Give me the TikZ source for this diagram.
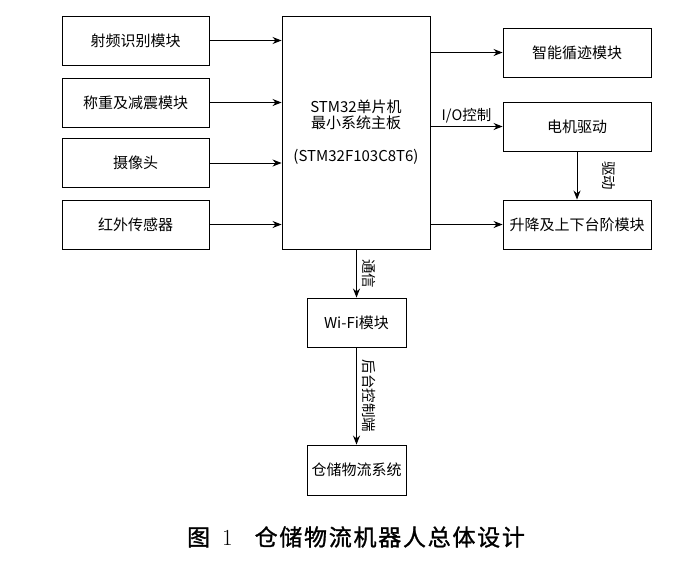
\documentclass[tikz,border=0pt]{standalone}
\usepackage{fontspec}
\newfontfamily\cjk{Noto Sans CJK SC}
\newfontfamily\capfont[LetterSpace=7.5,FakeBold=1.2]{Noto Sans CJK SC}
\usepackage{tikz}
\usetikzlibrary{arrows.meta,positioning,calc}

\begin{document}
\begin{tikzpicture}[x=1pt,y=-1pt,
        bx/.style={draw, line width=0.9pt, inner sep=2pt,
                   font=\cjk\fontsize{15}{18}\selectfont,
                   minimum width=147pt, minimum height=49pt},
        sbx/.style={bx, minimum width=99pt},
        lbl/.style={font=\cjk\fontsize{14.5}{17}\selectfont, inner sep=3pt},
        arr/.style={-{Stealth[length=9pt,width=7pt]}, line width=0.9pt}
      ]
        \useasboundingbox (0,0) rectangle (700,565);
        % Input modules
        \node[bx] (rfid) at (135.5,40.5) {射频识别模块};
        \node[bx] (weigh) at (135.5,102.5) {称重及减震模块};
        \node[bx] (cam) at (135.5,163) {摄像头};
        \node[bx] (ir) at (135.5,224.5) {红外传感器};
        % Main board
        \node[bx, minimum width=148pt, minimum height=233pt,
              align=center] (mcu) at (356,132.5)
              {STM32单片机\\[-2pt]最小系统主板\\[15pt](STM32F103C8T6)};
        % Output modules
        \node[bx, minimum width=148pt] (track) at (577,52.5) {智能循迹模块};
        \node[bx, minimum width=148pt] (motor) at (577,126.5) {电机驱动};
        \node[bx, minimum width=148pt] (lift) at (577,224.5) {升降及上下台阶模块};
        % Communication chain
        \node[sbx] (wifi) at (356.5,322.5) {Wi-Fi模块};
        \node[sbx, minimum height=50pt] (wms) at (356.5,470) {仓储物流系统};
        % Arrows: inputs to main board
        \draw[arr] (rfid) -- (rfid -| mcu.west);
        \draw[arr] (weigh) -- (weigh -| mcu.west);
        \draw[arr] (cam) -- (cam -| mcu.west);
        \draw[arr] (ir) -- (ir -| mcu.west);
        % Arrows: main board to outputs
        \draw[arr] (mcu.east |- track) -- (track);
        \draw[arr] (mcu.east |- motor) -- node[lbl, above] {I/O控制} (motor);
        \draw[arr] (mcu.east |- lift) -- (lift);
        \draw[arr] (motor) -- node[lbl, rotate=-90, anchor=south, outer sep=22pt] {驱动} (lift);
        % Arrows: main board to back end
        \draw[arr] (mcu.south -| wifi) -- node[lbl, rotate=-90, anchor=south, inner sep=5pt] {通信} (wifi);
        \draw[arr] (wifi) -- node[lbl, rotate=-90, anchor=south, inner sep=5pt] {后台控制端} (wms);
        % Caption
        \node[font=\capfont\fontsize{23}{26}\selectfont] (cap) at (356,537)
              {图\hspace{12pt}{\rmfamily 1}\hspace{22pt}仓储物流机器人总体设计};
      \end{tikzpicture}
\end{document}
